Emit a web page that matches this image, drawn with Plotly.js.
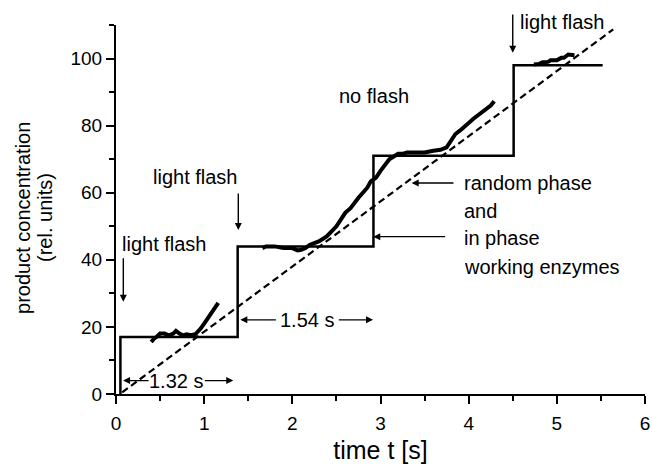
<!DOCTYPE html>
<html>
<head>
<meta charset="utf-8">
<script src="https://cdn.plot.ly/plotly-3.0.1.min.js"></script>
<style>html,body{margin:0;padding:0;background:#fff;}#chart{width:652px;height:464px;}</style>
</head>
<body>
<div id="chart"></div>
<script>
// Idealised in-phase step response
var stepX = [0.05, 0.05, 1.38, 1.38, 2.92, 2.92, 4.51, 4.51, 5.52];
var stepY = [0, 17, 17, 44, 44, 71, 71, 98, 98];

// Random-phase linear fit (dashed)
var fitX = [0.07, 5.64];
var fitY = [0.5, 108.7];

// Measured product concentration (three recorded segments)
var measX = [0.40,0.43,0.46,0.50,0.55,0.60,0.65,0.68,0.72,0.76,0.80,0.85,0.90,0.93,0.96,1.00,1.04,1.08,1.12,1.16,
             null,
             1.66,1.70,1.80,1.90,2.00,2.06,2.10,2.15,2.20,2.30,2.39,2.45,2.50,2.55,2.60,2.66,2.70,2.75,2.80,2.85,2.89,2.95,3.00,3.05,3.10,3.15,3.20,3.25,3.30,3.40,3.50,3.60,3.68,3.75,3.80,3.85,3.90,3.95,3.98,4.05,4.10,4.14,4.20,4.25,4.29,
             null,
             4.74,4.80,4.84,4.90,4.93,5.00,5.05,5.08,5.13,5.20];
var measY = [15.5,16.5,17.0,18.0,18.0,17.5,18.0,18.8,18.0,17.5,17.8,17.5,17.8,18.5,19.5,21.0,22.5,24.0,25.5,27.2,
             null,
             43.5,44.0,44.0,43.5,43.5,42.8,43.0,43.5,44.5,45.5,47.0,48.5,50.0,52.0,54.0,55.4,57.0,58.5,60.0,61.5,63.4,64.5,66.5,68.5,70.0,70.8,71.6,71.6,72.0,72.0,72.0,72.5,72.8,73.5,75.5,77.5,78.5,79.5,80.3,82.0,83.0,83.8,85.0,86.0,87.3,
             null,
             98.2,98.4,98.9,99.0,99.5,99.5,100.2,100.2,101.2,101.0];

var FAM = 'Liberation Sans, Arial, Helvetica, sans-serif';
var axisFont = {family: FAM, size: 19, color: '#000'};
var annFont = {family: FAM, size: 20, color: '#000'};

var traces = [
  {x: stepX, y: stepY, type: 'scatter', mode: 'lines', line: {color: '#000', width: 2.5}, hoverinfo: 'skip'},
  {x: fitX, y: fitY, type: 'scatter', mode: 'lines', line: {color: '#000', width: 2.2, dash: '7px,4px'}, hoverinfo: 'skip'},
  {x: measX, y: measY, type: 'scatter', mode: 'lines', connectgaps: false, line: {color: '#000', width: 4}, hoverinfo: 'skip'}
];

function txt(x, y, t, xa) {
  return {x: x, y: y, xref: 'x', yref: 'y', text: t, showarrow: false, xanchor: xa || 'left', yanchor: 'middle', font: annFont};
}
function arr(x, y, ax, ay) {
  return {x: x, y: y, ax: ax, ay: ay, xref: 'x', yref: 'y', axref: 'x', ayref: 'y', text: '', showarrow: true,
          arrowhead: 2, arrowsize: 1.0, arrowwidth: 1.4, arrowcolor: '#000', standoff: 0, startstandoff: 0};
}

var annotations = [
  {x: 4.56, y: 1.008, xref: 'x', yref: 'paper', text: 'light flash', showarrow: false, xanchor: 'left', yanchor: 'middle', font: annFont},
  arr(4.50, 101.7, 4.50, 113.6),
  txt(2.51, 88.8, 'no flash'),
  txt(0.907, 64.7, 'light flash', 'center'),
  arr(1.387, 48.9, 1.387, 60.2),
  txt(0.045, 44.7, 'light flash'),
  arr(0.083, 27.5, 0.083, 40.9),
  txt(0.686, 4.0, '1.32 s', 'center'),
  arr(0.08, 4.0, 0.386, 4.0),
  arr(1.33, 4.0, 0.99, 4.0),
  txt(2.17, 22.1, '1.54 s', 'center'),
  arr(1.41, 22.1, 1.83, 22.1),
  arr(2.915, 22.1, 2.51, 22.1),
  txt(3.924, 62.9, 'random phase'),
  arr(3.354, 62.9, 3.845, 62.9),
  txt(3.924, 54.6, 'and'),
  txt(3.924, 46.4, 'in phase'),
  arr(2.918, 46.9, 3.75, 46.9),
  txt(3.924, 37.9, 'working enzymes'),
  {x: -0.1758, y: 0.477, xref: 'paper', yref: 'paper', text: 'product concentration', textangle: -90, showarrow: false,
   xanchor: 'center', yanchor: 'middle', font: annFont},
  {x: -0.1342, y: 0.477, xref: 'paper', yref: 'paper', text: '(rel. units)', textangle: -90, showarrow: false,
   xanchor: 'center', yanchor: 'middle', font: annFont}
];

var layout = {
  width: 652, height: 464,
  margin: {l: 116, r: 7, t: 25, b: 70},
  paper_bgcolor: '#fff', plot_bgcolor: '#fff',
  showlegend: false,
  font: axisFont,
  xaxis: {
    range: [0, 6], tickvals: [0,1,2,3,4,5,6], ticktext: ['0','1','2','3','4','5','6'],
    showgrid: false, zeroline: false, showline: true, linecolor: '#000', linewidth: 2,
    ticks: 'outside', ticklen: 8, tickwidth: 2, tickcolor: '#000', tickfont: axisFont, ticklabelstandoff: 3,
    minor: {dtick: 0.5, tick0: 0, ticks: 'outside', ticklen: 5, tickwidth: 2, tickcolor: '#000', showgrid: false},
    title: {text: 'time t [s]', font: {family: FAM, size: 25, color: '#000'}, standoff: 10},
    fixedrange: true
  },
  yaxis: {
    range: [0, 110], tickvals: [0,20,40,60,80,100], ticktext: ['0','20','40','60','80','100'],
    showgrid: false, zeroline: false, showline: true, linecolor: '#000', linewidth: 2,
    ticks: 'outside', ticklen: 8, tickwidth: 2, tickcolor: '#000', tickfont: axisFont,
    minor: {dtick: 10, tick0: 0, ticks: 'outside', ticklen: 5, tickwidth: 2, tickcolor: '#000', showgrid: false},
    fixedrange: true
  },
  annotations: annotations
};

Plotly.newPlot('chart', traces, layout, {displayModeBar: false, staticPlot: true});
</script>
</body>
</html>
